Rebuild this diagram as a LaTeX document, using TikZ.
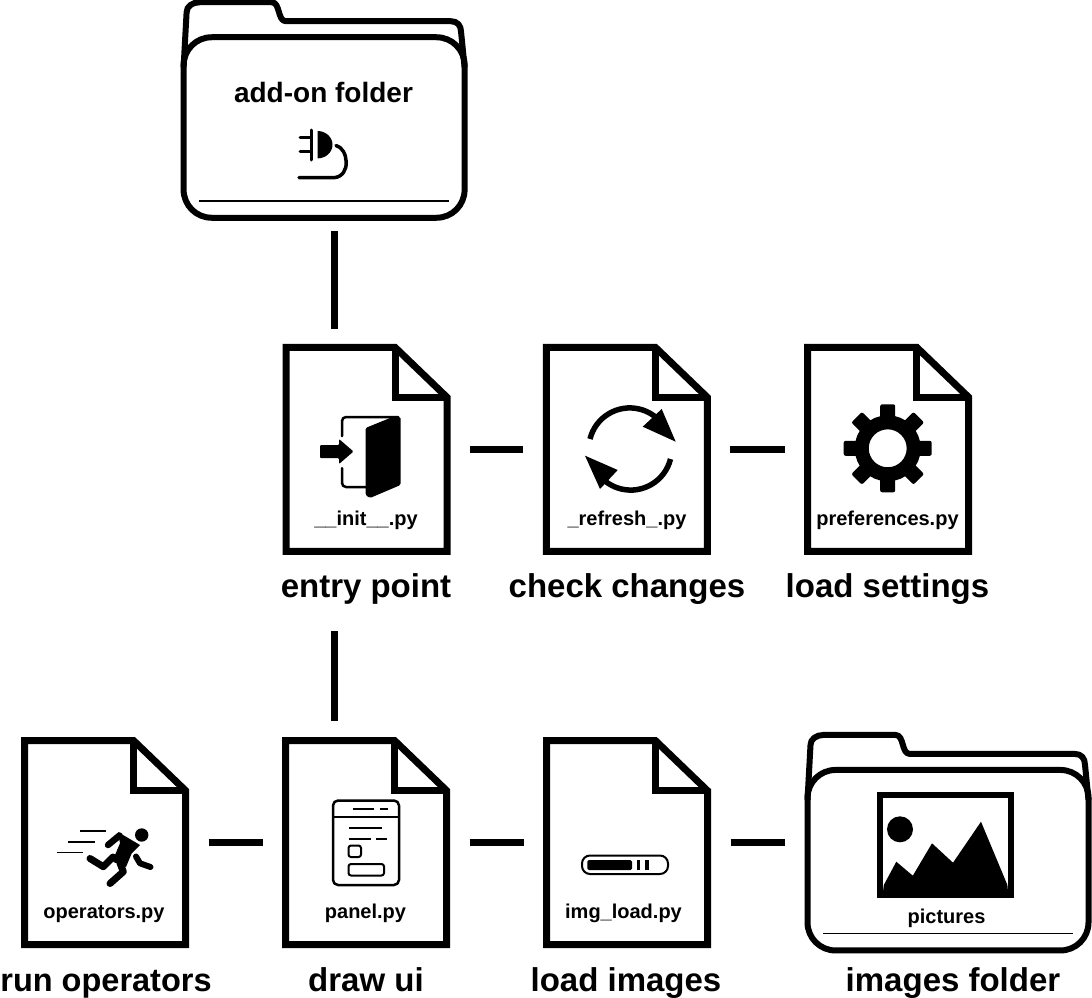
\documentclass[tikz,border=0pt]{standalone}
\usepackage{fontspec}
\setmainfont{Liberation Sans}
\tikzset{
  every path/.style={line cap=butt},
  outline/.style={line width=7pt,line join=miter},
  link/.style={line width=7pt,shorten >=23pt,shorten <=23pt},
  filebox/.style={minimum width=161pt,minimum height=204pt,inner sep=0pt,outer sep=0pt},
  foldbox/.style={draw,fill=white,line width=6pt,rounded corners=28pt,minimum width=281pt,minimum height=180.5pt,inner sep=0pt,outer sep=0pt},
  filename/.style={font=\bfseries\fontsize{20}{24}\selectfont,anchor=base},
  caption/.style={font=\bfseries\fontsize{33}{38}\selectfont,anchor=base},
  thinline/.style={line width=1.6pt},
  icon/.style={line width=3pt,line cap=round,line join=round},
}
\newcommand{\sheet}[1]{
  \draw[outline] (#1.north west) -- ++(109,0) -- ++(52,50) |- (#1.south west) -- cycle;
  \draw[outline] (#1.north west) ++(109,0) |- ++(52,50);
}
\newcommand{\folderback}[1]{
  \draw[line width=6pt,line join=round] (#1.north west) ++(0,30) -- ++(3,-55)
    .. controls ++(0,-6) and ++(-7,0) .. ++(13,-10) -- ++(72,0)
    .. controls ++(9,0) and ++(-9,0) .. ++(14.5,19) -- ++(165,0)
    .. controls ++(6,0) and ++(0,-7) .. ++(10,11) -- ++(3.5,35);
  \draw[thinline] (#1.south west) ++(15.5,-17) -- ++(250,0);
}
\begin{document}
\begin{tikzpicture}[x=1pt,y=-1pt]
  \useasboundingbox (0,0) rectangle (1092,998);

  % folders
  \node[foldbox] (addon) at (324.1,127.5) {};
  \folderback{addon}
  \node[foldbox] (pictures) at (948,860.2) {};
  \folderback{pictures}

  % files
  \node[filebox] (init) at (366.5,449.3) {};
  \node[filebox] (refresh) at (626.8,449.3) {};
  \node[filebox] (prefs) at (888.2,449.3) {};
  \node[filebox] (operators) at (105.2,842.7) {};
  \node[filebox] (panel) at (366.2,842.7) {};
  \node[filebox] (imgload) at (627,842.7) {};
  \sheet{init}
  \sheet{refresh}
  \sheet{prefs}
  \sheet{operators}
  \sheet{panel}
  \sheet{imgload}

  % texts
  \node[filename,font=\bfseries\fontsize{28}{32}\selectfont] (addonname) at (323.5,102.5) {add-on folder};
  \node[filename] (picturesname) at (946.5,923) {pictures};
  \node[filename] (initname) at (366,525) {\_\_init\_\_.py};
  \node[filename] (refreshname) at (627,525) {\_refresh\_.py};
  \node[filename] (prefsname) at (887.5,525) {preferences.py};
  \node[filename] (operatorsname) at (104,918) {operators.py};
  \node[filename] (panelname) at (365.5,918) {panel.py};
  \node[filename] (imgloadname) at (623.5,918) {img\_load.py};
  \node[caption] (entry) at (366,597) {entry point};
  \node[caption] (check) at (627,597) {check changes};
  \node[caption] (settings) at (887.5,597) {load settings};
  \node[caption,font=\bfseries\fontsize{32.5}{38}\selectfont] (running) at (106,991) {run operators};
  \node[caption] (drawui) at (366,991) {draw ui};
  \node[caption] (images) at (626,991) {load images};
  \node[caption] (imagesdir) at (953,991) {images folder};

  % connectors
  \coordinate (spine) at (334.5,0);
  \draw[link,shorten <=13pt,shorten >=18pt] (addon.south -| spine) -- (init.north -| spine);
  \draw[link,shorten <=24pt,shorten >=20pt] (entry.south -| spine) -- (panel.north -| spine);
  \draw[link] (init.east) -- (refresh.west);
  \draw[link] (refresh.east) -- (prefs.west);
  \draw[link] (operators.east) -- (panel.west);
  \draw[link] (panel.east) -- (imgload.west);
  \draw[link] (imgload.east) -- (imgload.east -| pictures.west);

  % plug
  \fill (317.5,131) arc (-90:90:15 and 13.7) -- cycle;
  \draw[icon] (311,130) -- (311,160);
  \draw[icon] (300,137.7) -- (310,137.7);
  \draw[icon] (300,151) -- (310,151);
  \draw[icon,line width=3.5pt] (336,145.5) .. controls (348,148) and (352,176) .. (334,177.7) -- (299,177.7);

  % door
  \draw[icon,line width=2.5pt,rounded corners=4pt] (342,436) -- (342,417) -- (398,417);
  \draw[icon,line width=2.5pt,rounded corners=4pt] (342,468) -- (342,487) -- (367,487);
  \fill[rounded corners=1.5pt] (365.5,428) -- (395,416) -- (400.5,417) -- (400.5,485) -- (370,498) -- (365.5,495) -- cycle;
  \fill[rounded corners=1pt] (320,445) -- (339,445) -- (339,439) -- (353.5,451.5) -- (339,464) -- (339,458) -- (320,458) -- cycle;

  % refresh arrows
  \draw[line width=5.5pt] (590,439) arc (-166:-40:41);
  \fill (661.7,409) -- (675.7,441.7) -- (642.7,426.7) -- cycle;
  \draw[line width=5.5pt] (670.5,459) arc (14:140:41);
  \fill (585,455.7) -- (600,489) -- (617.7,470) -- cycle;

  % gear
  \foreach \angle in {0,45,...,315}
    \fill[rounded corners=2pt,shift={(887.7,448.3)},rotate=\angle] (-7.5,-30) rectangle (7.5,-44);
  \draw[line width=14pt] (887.7,448.3) circle (26);

  % runner
  \fill (141.7,835) circle (6.7);
  \draw[thinline] (80,831) -- (106,831);
  \draw[thinline] (68.3,841.7) -- (95,841.7);
  \draw[thinline] (56.7,852.3) -- (83.3,852.3);
  \draw[icon,line width=6.5pt] (108,845) -- (119.5,835.5);
  \fill (118,832) -- (140,845) -- (131.7,853.3) -- (126,867) -- (113.3,862) -- (115,855) -- (120,843.3) -- cycle;
  \draw[icon,line width=7pt] (90,858.5) -- (103.3,866.7) -- (113,857);
  \draw[icon,line width=7pt] (120,863) -- (123.3,871.7) -- (110,883.5);
  \draw[icon,line width=6pt] (136,856.5) -- (140,863.3) -- (150.5,867);

  % panel window
  \draw[icon,line width=2.5pt,rounded corners=5pt] (333,800.5) rectangle (399,885);
  \draw[thinline] (333,816.7) -- (399,816.7);
  \draw[icon,line width=2pt,line cap=butt] (352.5,809.3) -- (373.5,809.3);
  \draw[icon,line width=2pt,line cap=butt] (379.5,809.3) -- (387.5,809.3);
  \draw[icon,line width=2pt,line cap=butt] (348.5,828.3) -- (382,828.3);
  \draw[icon,line width=2pt,line cap=butt] (348.5,839) -- (371,839);
  \draw[icon,line width=2pt,line cap=butt] (376,839) -- (386.5,839);
  \draw[icon,line width=2pt,rounded corners=2.5pt] (348.5,845.5) rectangle (361,857);
  \draw[icon,line width=2pt,rounded corners=2.5pt] (348.5,864) rectangle (384,875.5);

  % loading bar
  \draw[icon,line width=2pt,rounded corners=8pt] (582,855.5) rectangle (668,874);
  \fill[rounded corners=1.5pt] (587.3,860) rectangle (632,870);
  \fill (636.5,860) rectangle (640.4,870);
  \fill (644.7,860) rectangle (649,870);

  % picture
  \draw[line width=6pt,line join=miter] (880,795) rectangle (1011,895);
  \fill (900,829.3) circle (13);
  \fill (883,892) -- (883.8,885) -- (896.3,861.7) -- (912.8,875.7) -- (932,843.3) -- (953,862.7) -- (981,821.7) -- (1007.4,885) -- (1008,892) -- cycle;
\end{tikzpicture}
\end{document}
